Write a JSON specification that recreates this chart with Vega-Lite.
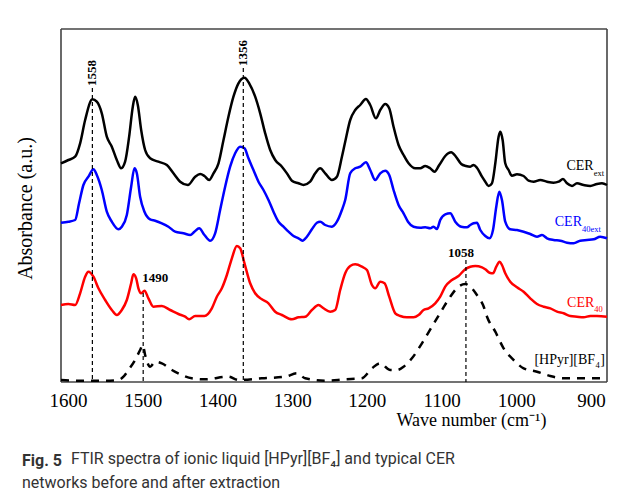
{
  "$schema": "https://vega.github.io/schema/vega-lite/v6.json",
  "width": 546,
  "height": 353,
  "autosize": {"type": "none"},
  "padding": {"left": 61, "top": 29, "right": 22, "bottom": 118},
  "background": "white",
  "config": {
    "font": "Liberation Serif",
    "view": {"stroke": null}
  },
  "title": {
    "text": "Fig. 5",
    "subtitle": ["\u200b\u2003\u2003\u2003FTIR spectra of ionic liquid [HPyr][BF\u2084] and typical CER", "networks before and after extraction"],
    "orient": "bottom",
    "anchor": "start",
    "frame": "group",
    "dx": -39,
    "offset": 24,
    "font": "Roboto",
    "fontSize": 16,
    "fontWeight": "bold",
    "color": "#333333",
    "subtitleFont": "Roboto",
    "subtitleFontSize": 16,
    "subtitleColor": "#333333",
    "subtitlePadding": -18,
    "subtitleLineHeight": 24
  },
  "datasets": {
    "spectra": [
      {"s":"ext","w":1600,"a":218.7},{"s":"ext","w":1590.1,"a":222},{"s":"ext","w":1581.1,"a":225.3},{"s":"ext","w":1574.4,"a":238.7},{"s":"ext","w":1567.7,"a":262},{"s":"ext","w":1558,"a":282.7},{"s":"ext","w":1552.1,"a":280.3},{"s":"ext","w":1545.4,"a":268.7},{"s":"ext","w":1538.7,"a":245.3},{"s":"ext","w":1532,"a":235.3},{"s":"ext","w":1525.3,"a":222},{"s":"ext","w":1519.5,"a":213.7},{"s":"ext","w":1514.2,"a":220.3},{"s":"ext","w":1508.8,"a":245.3},{"s":"ext","w":1503.9,"a":275.3},{"s":"ext","w":1500.8,"a":285.3},{"s":"ext","w":1497.2,"a":277},{"s":"ext","w":1492.7,"a":252},{"s":"ext","w":1487.4,"a":232},{"s":"ext","w":1480.7,"a":223.7},{"s":"ext","w":1469.6,"a":220.3},{"s":"ext","w":1458.3,"a":217},{"s":"ext","w":1449.5,"a":208.7},{"s":"ext","w":1440.5,"a":200.3},{"s":"ext","w":1430.2,"a":197},{"s":"ext","w":1420.4,"a":205.3},{"s":"ext","w":1413.7,"a":208},{"s":"ext","w":1408,"a":206},{"s":"ext","w":1401.7,"a":202},{"s":"ext","w":1395.9,"a":208.7},{"s":"ext","w":1389.2,"a":218.7},{"s":"ext","w":1382.5,"a":242},{"s":"ext","w":1375.9,"a":265.3},{"s":"ext","w":1369.2,"a":285.3},{"s":"ext","w":1362.5,"a":298.7},{"s":"ext","w":1354.4,"a":304.3},{"s":"ext","w":1348.1,"a":298.7},{"s":"ext","w":1340.1,"a":285.3},{"s":"ext","w":1333.4,"a":268.7},{"s":"ext","w":1326.7,"a":248.7},{"s":"ext","w":1320,"a":232},{"s":"ext","w":1313.3,"a":222},{"s":"ext","w":1304.3,"a":215.3},{"s":"ext","w":1297.7,"a":208.7},{"s":"ext","w":1291,"a":201.3},{"s":"ext","w":1282.1,"a":198.7},{"s":"ext","w":1275.4,"a":197},{"s":"ext","w":1266.5,"a":200.3},{"s":"ext","w":1259.8,"a":208.7},{"s":"ext","w":1253.1,"a":213.7},{"s":"ext","w":1246.4,"a":208.7},{"s":"ext","w":1237.4,"a":202},{"s":"ext","w":1230.7,"a":205.3},{"s":"ext","w":1224,"a":225.3},{"s":"ext","w":1219.6,"a":240.3},{"s":"ext","w":1212.9,"a":262},{"s":"ext","w":1206.2,"a":272},{"s":"ext","w":1199.5,"a":277},{"s":"ext","w":1191.9,"a":283},{"s":"ext","w":1186.1,"a":277},{"s":"ext","w":1178.5,"a":263.7},{"s":"ext","w":1172.7,"a":272},{"s":"ext","w":1166,"a":278},{"s":"ext","w":1160.7,"a":273.7},{"s":"ext","w":1154.9,"a":255.3},{"s":"ext","w":1148.2,"a":237},{"s":"ext","w":1141.5,"a":227},{"s":"ext","w":1134.8,"a":218.7},{"s":"ext","w":1125.9,"a":213.7},{"s":"ext","w":1119.2,"a":213.7},{"s":"ext","w":1112.5,"a":216},{"s":"ext","w":1105.8,"a":213.7},{"s":"ext","w":1100,"a":210.3},{"s":"ext","w":1093.7,"a":217},{"s":"ext","w":1085.7,"a":226},{"s":"ext","w":1077.7,"a":229.7},{"s":"ext","w":1071.4,"a":225.3},{"s":"ext","w":1064.3,"a":218},{"s":"ext","w":1058,"a":216},{"s":"ext","w":1052.2,"a":215.3},{"s":"ext","w":1047.8,"a":217},{"s":"ext","w":1043.3,"a":214.3},{"s":"ext","w":1036.5,"a":205.3},{"s":"ext","w":1032.1,"a":200.3},{"s":"ext","w":1027.7,"a":196},{"s":"ext","w":1023.2,"a":198.7},{"s":"ext","w":1018.7,"a":218.7},{"s":"ext","w":1014.3,"a":245.3},{"s":"ext","w":1012,"a":250.3},{"s":"ext","w":1008.9,"a":242},{"s":"ext","w":1005.4,"a":218.7},{"s":"ext","w":1000.9,"a":212},{"s":"ext","w":996.4,"a":206.3},{"s":"ext","w":989.7,"a":207.7},{"s":"ext","w":980.8,"a":206},{"s":"ext","w":974.2,"a":201.3},{"s":"ext","w":967.5,"a":200.3},{"s":"ext","w":958.5,"a":202},{"s":"ext","w":949.5,"a":200.3},{"s":"ext","w":940.7,"a":199.3},{"s":"ext","w":934,"a":200.3},{"s":"ext","w":928.1,"a":203},{"s":"ext","w":922.7,"a":198.7},{"s":"ext","w":916,"a":196},{"s":"ext","w":909.4,"a":198.7},{"s":"ext","w":900.5,"a":197},{"s":"ext","w":891.5,"a":196},{"s":"ext","w":882.6,"a":198},{"s":"ext","w":875.9,"a":198.7},{"s":"ext","w":869.2,"a":197},
      {"s":"40ext","w":1600,"a":159.3},{"s":"40ext","w":1590.1,"a":160.3},{"s":"40ext","w":1581.1,"a":162},{"s":"40ext","w":1575.8,"a":178.7},{"s":"40ext","w":1570,"a":197},{"s":"40ext","w":1563.3,"a":205.3},{"s":"40ext","w":1556.6,"a":212.7},{"s":"40ext","w":1552.1,"a":207},{"s":"40ext","w":1545.4,"a":192},{"s":"40ext","w":1538.7,"a":170.3},{"s":"40ext","w":1532,"a":160.3},{"s":"40ext","w":1523.1,"a":152.7},{"s":"40ext","w":1518.6,"a":155.3},{"s":"40ext","w":1511.9,"a":167},{"s":"40ext","w":1506.1,"a":195.3},{"s":"40ext","w":1501.7,"a":213.7},{"s":"40ext","w":1498.5,"a":208.7},{"s":"40ext","w":1494.1,"a":185.3},{"s":"40ext","w":1488.3,"a":170.3},{"s":"40ext","w":1480.7,"a":162.7},{"s":"40ext","w":1474,"a":161.3},{"s":"40ext","w":1465,"a":158.7},{"s":"40ext","w":1456.2,"a":155.3},{"s":"40ext","w":1447.2,"a":150.3},{"s":"40ext","w":1436.1,"a":148.7},{"s":"40ext","w":1427.1,"a":147},{"s":"40ext","w":1421.4,"a":150.3},{"s":"40ext","w":1415.1,"a":153.7},{"s":"40ext","w":1408,"a":147},{"s":"40ext","w":1400.4,"a":141.3},{"s":"40ext","w":1393.7,"a":148.7},{"s":"40ext","w":1387,"a":172},{"s":"40ext","w":1380.3,"a":195.3},{"s":"40ext","w":1373.6,"a":215.3},{"s":"40ext","w":1366.9,"a":228.7},{"s":"40ext","w":1360.2,"a":235.3},{"s":"40ext","w":1354.4,"a":233.7},{"s":"40ext","w":1349.1,"a":223.7},{"s":"40ext","w":1342.4,"a":212},{"s":"40ext","w":1335.7,"a":200.3},{"s":"40ext","w":1329,"a":192},{"s":"40ext","w":1322.3,"a":182},{"s":"40ext","w":1315.6,"a":170.3},{"s":"40ext","w":1308.9,"a":160.3},{"s":"40ext","w":1302.2,"a":155.3},{"s":"40ext","w":1295.5,"a":150.3},{"s":"40ext","w":1288.8,"a":146},{"s":"40ext","w":1282.1,"a":143.7},{"s":"40ext","w":1276.8,"a":141.3},{"s":"40ext","w":1270.9,"a":145.3},{"s":"40ext","w":1264.2,"a":152.7},{"s":"40ext","w":1257.5,"a":159.3},{"s":"40ext","w":1253.1,"a":160.3},{"s":"40ext","w":1246.4,"a":157},{"s":"40ext","w":1237.4,"a":155.3},{"s":"40ext","w":1230.7,"a":160.3},{"s":"40ext","w":1224,"a":172},{"s":"40ext","w":1219.6,"a":182},{"s":"40ext","w":1212.9,"a":208.7},{"s":"40ext","w":1206.2,"a":213.7},{"s":"40ext","w":1199.5,"a":215.3},{"s":"40ext","w":1191.9,"a":219.7},{"s":"40ext","w":1186.1,"a":212},{"s":"40ext","w":1179.4,"a":202},{"s":"40ext","w":1172.7,"a":208.7},{"s":"40ext","w":1166,"a":211.3},{"s":"40ext","w":1160.7,"a":207},{"s":"40ext","w":1154.9,"a":192},{"s":"40ext","w":1148.2,"a":177},{"s":"40ext","w":1141.5,"a":168.7},{"s":"40ext","w":1135.6,"a":160.3},{"s":"40ext","w":1128.1,"a":155.3},{"s":"40ext","w":1119.2,"a":154.3},{"s":"40ext","w":1112.5,"a":154.7},{"s":"40ext","w":1105.8,"a":153.7},{"s":"40ext","w":1101.4,"a":155.3},{"s":"40ext","w":1096.8,"a":153},{"s":"40ext","w":1092.4,"a":162},{"s":"40ext","w":1085.7,"a":167.7},{"s":"40ext","w":1079,"a":168.7},{"s":"40ext","w":1072.3,"a":160.3},{"s":"40ext","w":1064.3,"a":155.3},{"s":"40ext","w":1056.6,"a":154.7},{"s":"40ext","w":1052.2,"a":157},{"s":"40ext","w":1047.8,"a":158.7},{"s":"40ext","w":1043.3,"a":159.3},{"s":"40ext","w":1038.8,"a":152},{"s":"40ext","w":1032.1,"a":146},{"s":"40ext","w":1026.4,"a":143.7},{"s":"40ext","w":1021.8,"a":152},{"s":"40ext","w":1017.4,"a":175.3},{"s":"40ext","w":1013.4,"a":190.3},{"s":"40ext","w":1009.8,"a":182},{"s":"40ext","w":1005.4,"a":160.3},{"s":"40ext","w":998.7,"a":152.7},{"s":"40ext","w":989.7,"a":152},{"s":"40ext","w":980.8,"a":150.3},{"s":"40ext","w":971.9,"a":148},{"s":"40ext","w":962.9,"a":145.3},{"s":"40ext","w":956.2,"a":147},{"s":"40ext","w":949.5,"a":143.7},{"s":"40ext","w":940.7,"a":142},{"s":"40ext","w":931.7,"a":141.3},{"s":"40ext","w":922.7,"a":139.3},{"s":"40ext","w":913.9,"a":138.7},{"s":"40ext","w":905,"a":141.3},{"s":"40ext","w":896,"a":142},{"s":"40ext","w":887.1,"a":142.7},{"s":"40ext","w":878.2,"a":145.3},{"s":"40ext","w":869.2,"a":143.7},
      {"s":"40","w":1600,"a":77},{"s":"40","w":1590.1,"a":78},{"s":"40","w":1581.1,"a":77},{"s":"40","w":1574.4,"a":88.7},{"s":"40","w":1567.7,"a":105.3},{"s":"40","w":1563.3,"a":110.3},{"s":"40","w":1556.6,"a":105.3},{"s":"40","w":1549.9,"a":93.7},{"s":"40","w":1540.9,"a":82},{"s":"40","w":1532,"a":72},{"s":"40","w":1525.3,"a":67},{"s":"40","w":1518.6,"a":72},{"s":"40","w":1511.9,"a":82},{"s":"40","w":1506.1,"a":98.7},{"s":"40","w":1503.1,"a":107.7},{"s":"40","w":1499.4,"a":103.7},{"s":"40","w":1496.4,"a":93.7},{"s":"40","w":1492.7,"a":88.7},{"s":"40","w":1488.3,"a":91.3},{"s":"40","w":1483,"a":83.7},{"s":"40","w":1476.3,"a":75.3},{"s":"40","w":1465,"a":76},{"s":"40","w":1453.9,"a":72},{"s":"40","w":1442.8,"a":68},{"s":"40","w":1433.8,"a":65.3},{"s":"40","w":1428.5,"a":62.7},{"s":"40","w":1420.4,"a":66},{"s":"40","w":1408,"a":66},{"s":"40","w":1398.1,"a":73.7},{"s":"40","w":1391.4,"a":85.3},{"s":"40","w":1384.7,"a":93.7},{"s":"40","w":1378,"a":107},{"s":"40","w":1371.3,"a":123.7},{"s":"40","w":1364.6,"a":136},{"s":"40","w":1360.2,"a":133.7},{"s":"40","w":1354.4,"a":118.7},{"s":"40","w":1346.8,"a":98.7},{"s":"40","w":1340.1,"a":88.7},{"s":"40","w":1331.1,"a":82.7},{"s":"40","w":1322.3,"a":78.7},{"s":"40","w":1313.3,"a":70.3},{"s":"40","w":1304.3,"a":67},{"s":"40","w":1290.9,"a":62.7},{"s":"40","w":1282.1,"a":64.7},{"s":"40","w":1273.1,"a":65.3},{"s":"40","w":1264.2,"a":72},{"s":"40","w":1255.3,"a":77},{"s":"40","w":1248.6,"a":73.7},{"s":"40","w":1239.7,"a":70.3},{"s":"40","w":1233,"a":72},{"s":"40","w":1226.3,"a":92},{"s":"40","w":1219.6,"a":108.7},{"s":"40","w":1212.9,"a":116},{"s":"40","w":1206.2,"a":117.7},{"s":"40","w":1197.2,"a":115.3},{"s":"40","w":1190.5,"a":112},{"s":"40","w":1183.8,"a":97},{"s":"40","w":1179.4,"a":93.7},{"s":"40","w":1172.7,"a":100.3},{"s":"40","w":1166.9,"a":98.7},{"s":"40","w":1160.7,"a":85.3},{"s":"40","w":1152.6,"a":68.7},{"s":"40","w":1145.9,"a":66},{"s":"40","w":1137,"a":64.7},{"s":"40","w":1128.1,"a":64.7},{"s":"40","w":1121.4,"a":67},{"s":"40","w":1114.7,"a":72},{"s":"40","w":1108,"a":73.7},{"s":"40","w":1099.1,"a":78.7},{"s":"40","w":1092.4,"a":85.3},{"s":"40","w":1085.7,"a":95.3},{"s":"40","w":1076.7,"a":102},{"s":"40","w":1067.9,"a":106},{"s":"40","w":1059,"a":112.7},{"s":"40","w":1052.2,"a":115.3},{"s":"40","w":1045.5,"a":116},{"s":"40","w":1036.5,"a":114.7},{"s":"40","w":1032.1,"a":112.7},{"s":"40","w":1026.4,"a":109.3},{"s":"40","w":1021.8,"a":108.7},{"s":"40","w":1017.4,"a":115.3},{"s":"40","w":1013,"a":120.3},{"s":"40","w":1009.8,"a":117},{"s":"40","w":1005.4,"a":108.7},{"s":"40","w":998.7,"a":100.3},{"s":"40","w":989.7,"a":94.7},{"s":"40","w":980.8,"a":90.3},{"s":"40","w":971.9,"a":83.7},{"s":"40","w":962.9,"a":78},{"s":"40","w":954,"a":75.3},{"s":"40","w":945.1,"a":73.7},{"s":"40","w":936.1,"a":70.3},{"s":"40","w":927.3,"a":68.7},{"s":"40","w":918.3,"a":66},{"s":"40","w":909.4,"a":65.3},{"s":"40","w":900.5,"a":64.7},{"s":"40","w":891.5,"a":66},{"s":"40","w":882.6,"a":66},{"s":"40","w":869.2,"a":65.3},
      {"s":"IL","w":1600,"a":2},{"s":"IL","w":1581.1,"a":1.3},{"s":"IL","w":1540.9,"a":1.3},{"s":"IL","w":1523.1,"a":2},{"s":"IL","w":1516.4,"a":5.3},{"s":"IL","w":1509.8,"a":12},{"s":"IL","w":1500.8,"a":22},{"s":"IL","w":1494.1,"a":32},{"s":"IL","w":1490.5,"a":37},{"s":"IL","w":1487.4,"a":27},{"s":"IL","w":1480.7,"a":15.3},{"s":"IL","w":1474,"a":20.3},{"s":"IL","w":1465,"a":18.7},{"s":"IL","w":1451.6,"a":12},{"s":"IL","w":1438.2,"a":7},{"s":"IL","w":1424.9,"a":3.7},{"s":"IL","w":1407,"a":2.7},{"s":"IL","w":1375.9,"a":5.3},{"s":"IL","w":1362.5,"a":2},{"s":"IL","w":1331.1,"a":3.7},{"s":"IL","w":1299.9,"a":5.3},{"s":"IL","w":1284.3,"a":8.7},{"s":"IL","w":1273.1,"a":3.7},{"s":"IL","w":1246.4,"a":1.3},{"s":"IL","w":1219.6,"a":2.7},{"s":"IL","w":1197.6,"a":3.7},{"s":"IL","w":1183.8,"a":13.7},{"s":"IL","w":1172.7,"a":18.7},{"s":"IL","w":1159.3,"a":12},{"s":"IL","w":1150.4,"a":12},{"s":"IL","w":1141.5,"a":15.3},{"s":"IL","w":1130.3,"a":23.7},{"s":"IL","w":1116.9,"a":38.7},{"s":"IL","w":1103.5,"a":55.3},{"s":"IL","w":1090.1,"a":72},{"s":"IL","w":1079,"a":85.3},{"s":"IL","w":1067.9,"a":95.3},{"s":"IL","w":1059,"a":98},{"s":"IL","w":1052.2,"a":95.3},{"s":"IL","w":1043.3,"a":87},{"s":"IL","w":1034.2,"a":75.3},{"s":"IL","w":1029.8,"a":65.3},{"s":"IL","w":1018.7,"a":50.3},{"s":"IL","w":1007.6,"a":33.7},{"s":"IL","w":994.2,"a":22},{"s":"IL","w":980.8,"a":13.7},{"s":"IL","w":962.9,"a":10.3},{"s":"IL","w":945.1,"a":6},{"s":"IL","w":927.3,"a":3.7},{"s":"IL","w":909.4,"a":3.7},{"s":"IL","w":891.5,"a":3.7},{"s":"IL","w":869.2,"a":3.7}
    ],
    "refs": [
      {"w":1558,"top":294},{"w":1356,"top":314},{"w":1490,"top":89},{"w":1058,"top":122}
    ],
    "peakV": [
      {"w":1558,"a":296,"t":"1558"},{"w":1356,"a":316,"t":"1356"}
    ],
    "peak1490": [{"w":1490,"a":104,"t":"1490"}],
    "peak1058": [{"w":1058,"a":129,"t":"1058"}],
    "names": [
      {"s":"ext","w":887.1,"a":216,"t":"CER"},
      {"s":"40ext","w":902.7,"a":160.3,"t":"CER"},
      {"s":"40","w":886.2,"a":79.3,"t":"CER"},
      {"s":"IL","w":885.1,"a":22,"t":"[HPyr][BF"}
    ],
    "subs": [
      {"s":"ext","w":887.1,"a":209.3,"t":"ext"},
      {"s":"40ext","w":902.7,"a":152.7,"t":"40ext"},
      {"s":"40","w":886.2,"a":72.7,"t":"40"},
      {"s":"IL","w":884.5,"a":17,"t":"4"}
    ],
    "closers": [
      {"s":"IL","w":878.1,"a":22,"t":"]"}
    ],
    "frameV": [
      {"w":1600,"y1":0,"y2":353},{"w":869.2,"y1":0,"y2":353}
    ],
    "frameH": [
      {"a":0,"x1":1600,"x2":869.2},{"a":353,"x1":1600,"x2":869.2}
    ],
    "ticks": [
      {"w":1550},{"w":1500},{"w":1450},{"w":1400},{"w":1350},{"w":1300},{"w":1250},{"w":1200},{"w":1150},{"w":1100},{"w":1050},{"w":1000},{"w":950},{"w":900}
    ]
  },
  "encoding": {
    "x": {
      "field": "w", "type": "quantitative",
      "scale": {"domain": [869.2, 1600], "reverse": true, "nice": false, "zero": false},
      "axis": {
        "title": "Wave number (cm\u207B\u00B9)",
        "titleFont": "Liberation Serif", "titleFontSize": 18, "titleFontWeight": "normal", "titleColor": "black",
        "titleX": 410, "titleY": 38, "titleAlign": "center", "titleBaseline": "middle",
        "values": [1600,1500,1400,1300,1200,1100,1000,900],
        "format": "d",
        "labelFont": "Liberation Serif", "labelFontSize": 19, "labelColor": "black",
        "labelPadding": 9, "labelOffset": 7, "labelFlush": false, "labelOverlap": false,
        "ticks": false,
        "domain": false, "grid": false
      }
    },
    "y": {
      "field": "a", "type": "quantitative",
      "scale": {"domain": [0, 353], "nice": false, "zero": false},
      "axis": {
        "title": "Absorbance (a.u.)",
        "titleFont": "Liberation Serif", "titleFontSize": 20, "titleFontWeight": "normal", "titleColor": "black",
        "titleX": -36, "titleY": 179, "titleAngle": -90, "titleAlign": "center", "titleBaseline": "middle",
        "labels": false, "ticks": false, "domain": false, "grid": false
      }
    }
  },
  "layer": [
    {
      "data": {"name": "frameV"},
      "mark": {"type": "rule", "color": "#444444", "strokeWidth": 1.6},
      "encoding": {
        "x": {"field": "w", "type": "quantitative"},
        "y": {"field": "y1", "type": "quantitative"},
        "y2": {"field": "y2"}
      }
    },
    {
      "data": {"name": "frameH"},
      "mark": {"type": "rule", "color": "#444444", "strokeWidth": 1.6},
      "encoding": {
        "x": {"field": "x1", "type": "quantitative"},
        "x2": {"field": "x2"},
        "y": {"field": "a", "type": "quantitative"}
      }
    },
    {
      "data": {"name": "ticks"},
      "mark": {"type": "rule", "color": "#333333", "strokeWidth": 1.3},
      "encoding": {
        "y": {"datum": 0, "type": "quantitative"},
        "y2": {"datum": 5}
      }
    },
    {
      "data": {"name": "spectra"},
      "transform": [{"filter": "datum.s !== 'IL'"}],
      "mark": {"type": "line", "strokeWidth": 2.5, "interpolate": "monotone"},
      "encoding": {
        "color": {"field": "s", "type": "nominal", "legend": null,
          "scale": {"domain": ["ext", "40ext", "40", "IL"], "range": ["#000000", "#0000ff", "#ff0000", "#000000"]}},
        "detail": {"field": "s"}
      }
    },
    {
      "data": {"name": "spectra"},
      "transform": [{"filter": "datum.s === 'IL'"}],
      "mark": {"type": "line", "strokeWidth": 2.5, "interpolate": "monotone", "strokeDash": [8, 7], "color": "#000000"},
      "encoding": {}
    },
    {
      "data": {"name": "refs"},
      "mark": {"type": "rule", "strokeWidth": 1.2, "strokeDash": [4, 3], "color": "#000000"},
      "encoding": {
        "y": {"field": "top", "type": "quantitative"},
        "y2": {"datum": 0}
      }
    },
    {
      "data": {"name": "peakV"},
      "mark": {"type": "text", "angle": 270, "align": "left", "baseline": "middle", "font": "Liberation Serif", "fontSize": 13, "fontWeight": "bold", "color": "#000000"},
      "encoding": {"text": {"field": "t"}}
    },
    {
      "data": {"name": "peak1490"},
      "mark": {"type": "text", "align": "left", "baseline": "middle", "font": "Liberation Serif", "fontSize": 13, "fontWeight": "bold", "color": "#000000", "dx": -1},
      "encoding": {"text": {"field": "t"}}
    },
    {
      "data": {"name": "peak1058"},
      "mark": {"type": "text", "align": "center", "baseline": "middle", "font": "Liberation Serif", "fontSize": 13, "fontWeight": "bold", "color": "#000000", "dx": -5},
      "encoding": {"text": {"field": "t"}}
    },
    {
      "data": {"name": "names"},
      "mark": {"type": "text", "align": "right", "baseline": "middle", "font": "Liberation Serif", "fontSize": 14},
      "encoding": {
        "text": {"field": "t"},
        "color": {"field": "s", "type": "nominal", "legend": null}
      }
    },
    {
      "data": {"name": "closers"},
      "mark": {"type": "text", "align": "left", "baseline": "middle", "font": "Liberation Serif", "fontSize": 14},
      "encoding": {
        "text": {"field": "t"},
        "color": {"field": "s", "type": "nominal", "legend": null}
      }
    },
    {
      "data": {"name": "subs"},
      "mark": {"type": "text", "align": "left", "baseline": "middle", "font": "Liberation Serif", "fontSize": 8.5},
      "encoding": {
        "text": {"field": "t"},
        "color": {"field": "s", "type": "nominal", "legend": null}
      }
    }
  ]
}
